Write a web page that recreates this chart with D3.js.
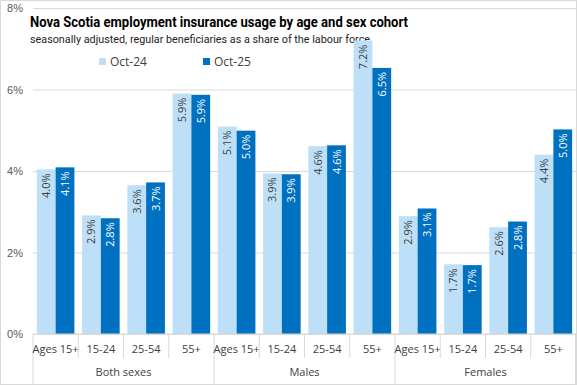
<!DOCTYPE html>
<html>
<head>
<meta charset="utf-8">
<script src="https://cdn.jsdelivr.net/npm/d3@7"></script>
<style>
  body { margin: 0; background: #fff; }
  svg { display: block; font-family: "Open Sans", "Liberation Sans", sans-serif; }
</style>
</head>
<body>
<script>
const width = 577;
const height = 385;

// chart data
const groups = ["Both sexes", "Males", "Females"];
const ages = ["Ages 15+", "15-24", "25-54", "55+"];
const seriesNames = ["Oct-24", "Oct-25"];
const oct24 = [4.04, 2.91, 3.65, 5.90, 5.09, 3.94, 4.61, 7.20, 2.89, 1.71, 2.62, 4.40];
const oct25 = [4.09, 2.84, 3.72, 5.87, 4.99, 3.92, 4.63, 6.53, 3.08, 1.69, 2.76, 5.02];
const yTicks = [0, 2, 4, 6, 8];

const colors = ["#BDDFF8", "#0070C0"];
const labelColors = ["#404040", "#ffffff"];

// flatten categories
const cats = [];
groups.forEach(g => ages.forEach(a => cats.push({ group: g, age: a, key: g + "|" + a })));
cats.forEach((c, i) => { c.values = [oct24[i], oct25[i]]; });

const margin = { left: 33, right: 1, top: 8, bottom: 51 };

const svg = d3.select("body").append("svg")
  .attr("width", width)
  .attr("height", height);

// outer border
svg.append("rect")
  .attr("x", 0.5).attr("y", 0.5)
  .attr("width", width - 1).attr("height", height - 1)
  .attr("fill", "#fff")
  .attr("stroke", "#D9D9D9");

const x = d3.scaleBand()
  .domain(cats.map(d => d.key))
  .range([margin.left, width - margin.right])
  .paddingInner(0.17)
  .paddingOuter(0.085);

const xs = d3.scaleBand()
  .domain(seriesNames)
  .range([0, x.bandwidth()]);

const y = d3.scaleLinear()
  .domain([0, 8])
  .range([height - margin.bottom, margin.top]);

// gridlines + y labels
const yAxis = svg.append("g")
  .attr("transform", `translate(${margin.left},0)`)
  .call(d3.axisLeft(y).tickValues(yTicks).tickFormat(d => d + "%").tickSize(-(width - margin.left - margin.right)).tickPadding(10));
yAxis.select(".domain").remove();
yAxis.selectAll(".tick line").attr("stroke", "#D9D9D9");
yAxis.selectAll(".tick text")
  .attr("fill", "#595959")
  .style("font-size", "11px");

// title and subtitle
svg.append("text")
  .attr("x", 30).attr("y", 27)
  .attr("fill", "#000")
  .attr("textLength", 378)
  .attr("lengthAdjust", "spacingAndGlyphs")
  .style("font-family", "'Liberation Sans Narrow', 'Roboto', sans-serif")
  .style("font-size", "15px")
  .style("font-weight", "bold")
  .text("Nova Scotia employment insurance usage by age and sex cohort");

svg.append("text")
  .attr("x", 30).attr("y", 43)
  .attr("fill", "#222")
  .attr("textLength", 340)
  .attr("lengthAdjust", "spacingAndGlyphs")
  .style("font-family", "'Roboto', sans-serif")
  .style("font-size", "11.5px")
  .text("seasonally adjusted, regular beneficiaries as a share of the labour force");

// legend
const legendX = [99, 203];
const legend = svg.append("g").selectAll("g")
  .data(seriesNames)
  .join("g")
  .attr("transform", (d, i) => `translate(${legendX[i]},62)`);
legend.append("rect")
  .attr("x", 0).attr("y", -4)
  .attr("width", 7).attr("height", 7)
  .attr("fill", (d, i) => colors[i]);
legend.append("text")
  .attr("x", 11).attr("y", 4)
  .attr("fill", "#404040")
  .style("font-size", "12px")
  .text(d => d);

// bars
const catG = svg.append("g").selectAll("g")
  .data(cats)
  .join("g")
  .attr("transform", d => `translate(${x(d.key)},0)`);

catG.selectAll("rect")
  .data(d => d.values.map((v, i) => ({ v, i })))
  .join("rect")
  .attr("x", d => xs(seriesNames[d.i]))
  .attr("y", d => y(d.v))
  .attr("width", xs.bandwidth())
  .attr("height", d => y(0) - y(d.v))
  .attr("fill", d => colors[d.i]);

// data labels, rotated, inside end
catG.selectAll("text.lbl")
  .data(d => d.values.map((v, i) => ({ v, i })))
  .join("text")
  .attr("class", "lbl")
  .attr("transform", d => `translate(${xs(seriesNames[d.i]) + xs.bandwidth() / 2 + 4},${y(d.v) + 4}) rotate(-90)`)
  .attr("text-anchor", "end")
  .attr("fill", d => labelColors[d.i])
  .style("font-size", "11px")
  .text(d => d.v.toFixed(1) + "%");

// x axis baseline
const y0 = y(0);
const step = x.step();
const left = margin.left;
const right = width - margin.right;
svg.append("line")
  .attr("x1", left).attr("x2", right)
  .attr("y1", y0).attr("y2", y0)
  .attr("stroke", "#D9D9D9");

// category separators
cats.forEach((c, i) => {
  const xx = x(c.key) - step * x.paddingInner() / 2;
  const isGroupEdge = i % ages.length === 0;
  svg.append("line")
    .attr("x1", xx).attr("x2", xx)
    .attr("y1", y0).attr("y2", isGroupEdge ? height : y0 + 24)
    .attr("stroke", "#D9D9D9");
});
svg.append("line")
  .attr("x1", right - 0.5).attr("x2", right - 0.5)
  .attr("y1", y0).attr("y2", height)
  .attr("stroke", "#D9D9D9");

// category labels
svg.append("g").selectAll("text")
  .data(cats)
  .join("text")
  .attr("x", d => x(d.key) + x.bandwidth() / 2)
  .attr("y", y0 + 19)
  .attr("text-anchor", "middle")
  .attr("fill", "#404040")
  .style("font-size", "11px")
  .text(d => d.age);

// group labels
svg.append("g").selectAll("text")
  .data(groups)
  .join("text")
  .attr("x", (g, i) => left + (right - left) * (i + 0.5) / groups.length)
  .attr("y", y0 + 42)
  .attr("text-anchor", "middle")
  .attr("fill", "#404040")
  .style("font-size", "11px")
  .text(d => d);
</script>
</body>
</html>
